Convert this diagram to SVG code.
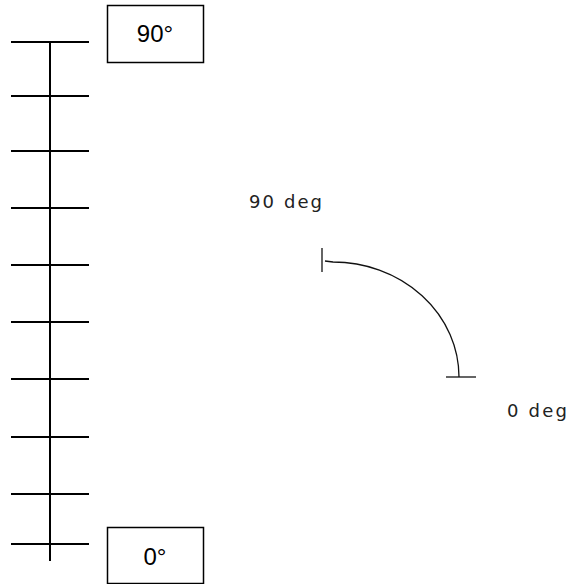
<svg xmlns="http://www.w3.org/2000/svg" width="569" height="584" viewBox="0 0 569 584">
<style>
.ln{stroke:#000;stroke-width:2;fill:none}
.thin{stroke:#111;stroke-width:1.3;fill:none}
.box{fill:#fff;stroke:#000;stroke-width:1.5}
.lbl{font-family:"Liberation Sans",Arial,sans-serif;font-size:24px;fill:#000;text-anchor:middle}
.deg{font-family:"DejaVu Sans","Liberation Sans",sans-serif;font-size:18px;fill:#222}
</style>
<rect width="569" height="584" fill="#fff"/>
<g id="scale">
<line class="ln" x1="50" y1="42" x2="50" y2="561"/>
<line class="ln" x1="11" y1="42" x2="89" y2="42"/>
<line class="ln" x1="11" y1="96" x2="89" y2="96"/>
<line class="ln" x1="11" y1="151" x2="89" y2="151"/>
<line class="ln" x1="11" y1="208" x2="89" y2="208"/>
<line class="ln" x1="11" y1="265" x2="89" y2="265"/>
<line class="ln" x1="11" y1="322" x2="89" y2="322"/>
<line class="ln" x1="11" y1="379" x2="89" y2="379"/>
<line class="ln" x1="11" y1="437" x2="89" y2="437"/>
<line class="ln" x1="11" y1="494" x2="89" y2="494"/>
<line class="ln" x1="11" y1="544" x2="89" y2="544"/>
</g>
<g id="box90">
<rect class="box" x="107.5" y="5.5" width="96" height="57"/>
<text class="lbl" x="155" y="42">90°</text>
</g>
<g id="box0">
<rect class="box" x="107.5" y="527.5" width="96" height="56"/>
<text class="lbl" x="155" y="565">0°</text>
</g>
<g id="arc">
<line class="thin" x1="322" y1="248" x2="322" y2="272"/>
<path class="thin" d="M325 261 L333 262 A126 115 0 0 1 459 377"/>
<line class="thin" x1="446" y1="377" x2="476" y2="377"/>
</g>
<g id="labels">
<text class="deg" x="249" y="208" textLength="73" lengthAdjust="spacing">90 deg</text>
<text class="deg" x="507" y="417" textLength="60" lengthAdjust="spacing">0 deg</text>
</g>
</svg>
